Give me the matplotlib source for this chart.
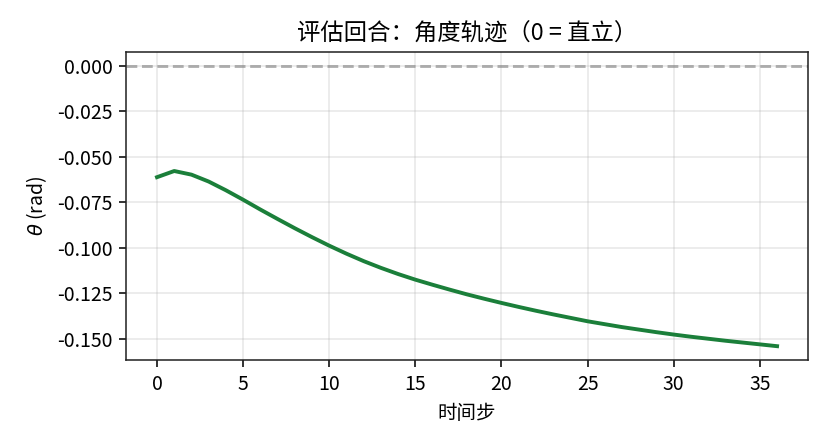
import matplotlib
matplotlib.use("Agg")
import matplotlib.pyplot as plt

plt.rcParams['font.family'] = ['Noto Sans CJK SC', 'DejaVu Sans']
plt.rcParams['axes.unicode_minus'] = False

# angle trajectory (rad)
steps = list(range(37))
theta = [-0.0612, -0.0578, -0.0598, -0.0636, -0.0684, -0.0736,
         -0.0790, -0.0842, -0.0893, -0.0942, -0.0989,
         -0.1033, -0.1074, -0.1111, -0.1145, -0.1176,
         -0.1204, -0.1231, -0.1257, -0.1281, -0.1304,
         -0.1326, -0.1347, -0.1367, -0.1386, -0.1405,
         -0.1421, -0.1437, -0.1451, -0.1465, -0.1478,
         -0.1490, -0.1501, -0.1512, -0.1522, -0.1532, -0.1542]

fig, ax = plt.subplots(figsize=(6, 3.2), dpi=140)
fig.subplots_adjust(left=0.15, right=0.962, top=0.884, bottom=0.196)

ax.plot(steps, theta, color='#1b7f3a', linewidth=2)
ax.axhline(0, color='gray', linestyle='--', alpha=0.6)

ax.set_title('评估回合：角度轨迹（0 = 直立）', fontsize=12)
ax.set_xlabel('时间步', fontsize=10)
ax.set_ylabel(r'$\theta$ (rad)', fontsize=10)
ax.grid(True, alpha=0.3)
for s in ax.spines.values():
    s.set_color('#222222')

fig.savefig('out.png', dpi=140)
